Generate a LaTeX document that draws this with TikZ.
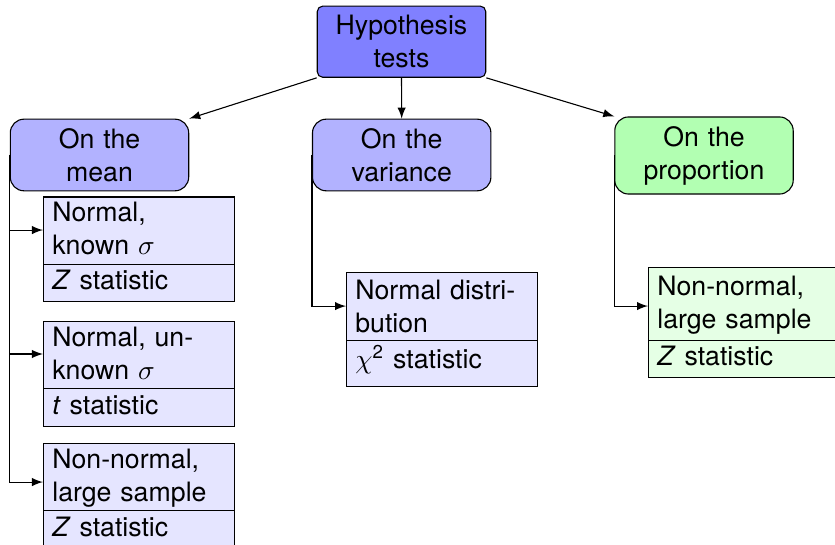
\documentclass[tikz,border=0pt]{standalone}
\usepackage{fontspec}
\setmainfont{TeX Gyre Heros}
\usetikzlibrary{shapes.multipart}
\setlength{\parindent}{0pt}
\newcommand\mytop[1]{\rule{0pt}{#1}}
\newcommand\mybot[1]{\rule[-#1]{0pt}{#1}}
\begin{document}
\begin{tikzpicture}[x=0.3636pt,y=-0.3636pt,
  every node/.style={font=\fontsize{9.7}{12}\selectfont},
  rootbox/.style={draw=black, fill=blue!50, rounded corners=2pt, align=center, text width=54.6pt},
  levelbox/.style={draw=black, rounded corners=5pt, align=center, text width=58.2pt},
  childbox/.style={draw=black, rectangle split, rectangle split parts=2, text width=63pt,
    inner xsep=3.2pt, inner ysep=0pt, align=left, anchor=north west},
  arr/.style={-latex, thin}]
\useasboundingbox (0,0) rectangle (835,545);
\clip (0,0) rectangle (835,545);

\node[rootbox] (root) at (401.5,41.7) {Hypothesis\\tests};

\node[levelbox, fill=blue!30] (mean) at (99.5,155) {On the\\mean};
\node[levelbox, fill=blue!30] (var) at (401.7,155) {On the\\variance};
\node[levelbox, fill=green!30] (prop) at (704,155.5) {On the\\proportion};

\node[childbox, fill=blue!10] (b1) at (43,196.5)
  {\mytop{8.73pt}Normal,\\known $\sigma$\mybot{3.27pt}
   \nodepart{two}\mytop{9.1pt}\textit{Z} statistic\mybot{4.2pt}};
\node[childbox, fill=blue!10] (b2) at (43,321)
  {\mytop{8.73pt}Normal, un-\\known $\sigma$\mybot{3.27pt}
   \nodepart{two}\mytop{9.1pt}\textit{t} statistic\mybot{4.2pt}};
\node[childbox, fill=blue!10] (b3) at (43,443)
  {\mytop{8.73pt}Non-normal,\\large sample\mybot{3.27pt}
   \nodepart{two}\mytop{9.1pt}\textit{Z} statistic\mybot{4.2pt}};

\node[childbox, fill=blue!10] (vc) at (346,272)
  {\mytop{9.45pt}Normal distri-\\bution\mybot{2.9pt}
   \nodepart{two}\mytop{9.8pt}$\chi$\textsuperscript{2} statistic\mybot{6.55pt}};

\node[childbox, fill=green!10] (pc) at (648,267)
  {\mytop{9.8pt}Non-normal,\\large sample\mybot{4.36pt}
   \nodepart{two}\mytop{8.73pt}\textit{Z} statistic\mybot{4.36pt}};

\draw[arr] (root.south west) -- (mean.north east);
\draw[arr] (root.south) -- (var.north);
\draw[arr] (root.south east) -- (prop.north west);

\draw[arr] (mean.west) |- ([yshift=-12.2pt]b1.north west);
\draw[arr] (mean.west) |- ([yshift=-12pt]b2.north west);
\draw[arr] (mean.west) |- ([yshift=-14.2pt]b3.north west);
\draw[arr] (var.west) |- ([yshift=-12.4pt]vc.north west);
\draw[arr] (prop.west) |- ([yshift=-14.2pt]pc.north west);
\end{tikzpicture}
\end{document}
